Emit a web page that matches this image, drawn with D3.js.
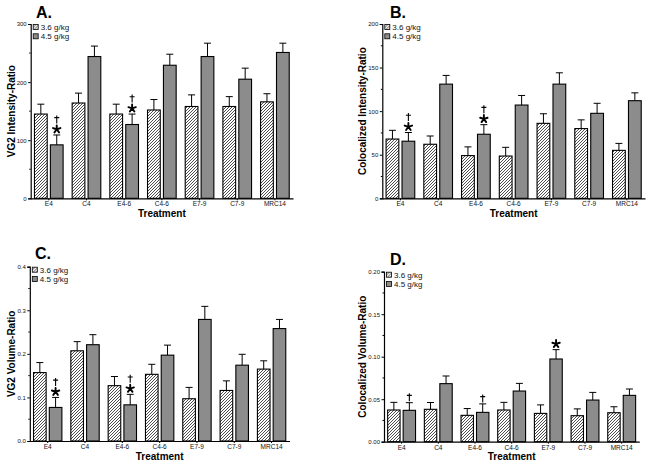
<!DOCTYPE html>
<html><head><meta charset="utf-8">
<script src="https://cdn.jsdelivr.net/npm/d3@7"></script>
<style>
body{margin:0;background:#fff;}
svg{display:block;font-family:"Liberation Sans",Arial,sans-serif;}
</style></head>
<body>
<svg id="chart" width="649" height="467"></svg>
<script>
// ---------- DATA ----------
const categories = ["E4","C4","E4-6","C4-6","E7-9","C7-9","MRC14"];
const seriesNames = ["3.6 g/kg","4.5 g/kg"];

// Panel A: VG2 Intensity-Ratio
const aLow     = [145,164,145,152,158,158,166];
const aLowErr  = [17,17,17,18,20,17,14];
const aHigh    = [92,244,127,229,244,205,251];
const aHighErr = [17,18,18,19,23,19,16];
const aTicks   = [0,100,200,300];

// Panel B: Colocalized Intensity-Ratio
const bLow     = [68,62,49,48.5,86,80,55];
const bLowErr  = [10,9.5,10,10,11,10,8];
const bHigh    = [65.5,131,73.5,107,131,97.5,112];
const bHighErr = [10,10,11,11,13,11.5,9];
const bTicks   = [0,50,100,150,200];

// Panel C: VG2 Volume-Ratio
const cLow     = [0.157,0.207,0.127,0.153,0.097,0.116,0.165];
const cLowErr  = [0.023,0.021,0.021,0.023,0.026,0.022,0.019];
const cHigh    = [0.077,0.221,0.083,0.197,0.279,0.174,0.258];
const cHighErr = [0.023,0.023,0.024,0.023,0.030,0.025,0.021];
const cTicks   = [0.0,0.1,0.2,0.3,0.4];

// Panel D: Colocalized Volume-Ratio
const dLow     = [0.0373,0.0381,0.0310,0.0373,0.0333,0.0306,0.0341];
const dLowErr  = [0.009,0.008,0.008,0.009,0.010,0.008,0.007];
const dHigh    = [0.0369,0.0683,0.0345,0.0596,0.0973,0.0490,0.0545];
const dHighErr = [0.009,0.009,0.010,0.009,0.011,0.009,0.0075];
const dTicks   = [0.00,0.05,0.10,0.15,0.20];

// significance marks on the 4.5 g/kg bars (index -> marks, top to bottom)
const aMarks = {0:["†","*"],2:["†","*"]};
const bMarks = {0:["†","*"],2:["†","*"]};
const cMarks = {0:["†","*"],2:["†","*"]};
const dMarks = {0:["†"],2:["†"],4:["*"]};

// ---------- LAYOUT ----------
const panels = [
  {title:"A.", tx:36, ty:18, ylabel:"VG2 Intensity-Ratio", lx:11, x0:30.7, x1:293, yTop:24, yBot:198.3,
   low:aLow, lowErr:aLowErr, high:aHigh, highErr:aHighErr, ticks:aTicks, fmt:d3.format("d"), marks:aMarks},
  {title:"B.", tx:390, ty:17.5, ylabel:"Colocalized Intensity-Ratio", lx:362, x0:382.3, x1:645, yTop:24, yBot:198.3,
   low:bLow, lowErr:bLowErr, high:bHigh, highErr:bHighErr, ticks:bTicks, fmt:d3.format("d"), marks:bMarks},
  {title:"C.", tx:35, ty:259, ylabel:"VG2 Volume-Ratio", lx:11, x0:29.8, x1:289.5, yTop:266.7, yBot:441,
   low:cLow, lowErr:cLowErr, high:cHigh, highErr:cHighErr, ticks:cTicks, fmt:d3.format(".1f"), marks:cMarks},
  {title:"D.", tx:390, ty:265, ylabel:"Colocalized Volume-Ratio", lx:362, x0:384, x1:639.3, yTop:271.7, yBot:441.7,
   low:dLow, lowErr:dLowErr, high:dHigh, highErr:dHighErr, ticks:dTicks, fmt:d3.format(".2f"), marks:dMarks}
];

const svg = d3.select("#chart");
const defs = svg.append("defs");
const pat = defs.append("pattern").attr("id","hatch").attr("patternUnits","userSpaceOnUse")
  .attr("width",3).attr("height",3);
pat.append("rect").attr("width",3).attr("height",3).attr("fill","#fff");
pat.append("path").attr("d","M-1,1 l2,-2 M0,3 l3,-3 M2,4 l2,-2")
  .attr("stroke","#222").attr("stroke-width",0.8);

const GRAY = "#8c8c8c";

function drawStar(g, cx, cy) {
  const r = 3.9;
  let d = "";
  for (let k=0;k<5;k++) {
    const a = -Math.PI/2 + k*2*Math.PI/5;
    d += `M${cx},${cy} L${cx + r*Math.cos(a)},${cy + r*Math.sin(a)} `;
  }
  g.append("path").attr("d",d).attr("stroke","#000").attr("stroke-width",1.9).attr("stroke-linecap","round").attr("fill","none");
}
function drawDagger(g, cx, bottom) {
  g.append("path").attr("d",`M${cx},${bottom} V${bottom-8} M${cx-2.5},${bottom-5.8} H${cx+2.5}`)
    .attr("stroke","#000").attr("stroke-width",1.1).attr("fill","none");
}

panels.forEach(p => {
  const g = svg.append("g");
  const x = d3.scaleBand().domain(categories).range([p.x0, p.x1]).paddingInner(0.24).paddingOuter(0.1);
  const xs = d3.scaleBand().domain([0,1]).range([0, x.bandwidth()]).paddingInner(0.2);
  const maxT = p.ticks[p.ticks.length-1];
  const y = d3.scaleLinear().domain([0, maxT]).range([p.yBot, p.yTop]);

  const series = [
    {vals:p.low, errs:p.lowErr, fill:"url(#hatch)", k:0},
    {vals:p.high, errs:p.highErr, fill:GRAY, k:1}
  ];
  series.forEach(s => {
    categories.forEach((c,i) => {
      const bx = x(c) + xs(s.k), bw = xs.bandwidth();
      const v = s.vals[i], e = s.errs[i];
      const cx = bx + bw/2;
      g.append("line").attr("x1",cx).attr("x2",cx).attr("y1",y(v)).attr("y2",y(v+e))
        .attr("stroke","#000").attr("stroke-width",1);
      g.append("line").attr("x1",cx-3.5).attr("x2",cx+3.5).attr("y1",y(v+e)).attr("y2",y(v+e))
        .attr("stroke","#000").attr("stroke-width",1);
      g.append("rect").attr("x",bx).attr("y",y(v)).attr("width",bw).attr("height",y(0)-y(v))
        .attr("fill",s.fill).attr("stroke","#000").attr("stroke-width",1.1);
      if (s.k===1 && p.marks[i]) {
        let cur = y(v+e) - 1.5;
        const m = p.marks[i];
        for (let j=m.length-1;j>=0;j--) {
          if (m[j]==="*") {
            drawStar(g, cx, cur-4.2);
            cur -= 10;
          } else {
            drawDagger(g, cx, cur);
            cur -= 9;
          }
        }
      }
    });
  });

  // axes
  const yAxis = d3.axisLeft(y).tickValues(p.ticks).tickFormat(p.fmt).tickSize(2.5).tickPadding(1.5);
  const ya = g.append("g").attr("transform",`translate(${p.x0},0)`).call(yAxis);
  ya.select(".domain").attr("stroke","#000").attr("stroke-width",1.2);
  ya.selectAll("text").attr("font-size",6).attr("fill","#111").attr("font-family","Liberation Sans, Arial");
  const minor = [];
  for (let k=0;k<p.ticks.length-1;k++) minor.push((p.ticks[k]+p.ticks[k+1])/2);
  g.selectAll(null).data(minor).enter().append("line")
    .attr("x1",p.x0-1.5).attr("x2",p.x0).attr("y1",d=>y(d)).attr("y2",d=>y(d)).attr("stroke","#000");

  const xAxis = d3.axisBottom(x).tickSize(2).tickPadding(1.5).tickSizeOuter(0);
  const xa = g.append("g").attr("transform",`translate(0,${p.yBot})`).call(xAxis);
  xa.select(".domain").attr("stroke","#000").attr("stroke-width",1.2);
  xa.selectAll("text").attr("font-size",6.5).attr("fill","#111").attr("font-family","Liberation Sans, Arial");

  // axis labels
  g.append("text").attr("x",(p.x0+p.x1)/2).attr("y",p.yBot+18.5).attr("text-anchor","middle")
    .attr("font-size",10).attr("font-weight","bold").text("Treatment");
  g.append("text").attr("transform",`translate(${p.lx+3.7},${(p.yTop+p.yBot)/2}) rotate(-90)`)
    .attr("text-anchor","middle").attr("font-size",10).attr("font-weight","bold").text(p.ylabel);

  // title
  g.append("text").attr("x",p.tx).attr("y",p.ty).attr("font-size",16).attr("font-weight","bold").text(p.title);

  // legend
  const lg = g.append("g").attr("transform",`translate(${p.x0+2.5},${p.yTop+0.5})`);
  seriesNames.forEach((n,k)=>{
    lg.append("rect").attr("x",0).attr("y",k*9.3).attr("width",5).attr("height",5)
      .attr("fill",k===0?"url(#hatch)":GRAY).attr("stroke","#000").attr("stroke-width",0.8);
    lg.append("text").attr("x",7.5).attr("y",k*9.3+5.3).attr("font-size",8).attr("fill","#111").text(n);
  });
});
</script>
</body></html>
